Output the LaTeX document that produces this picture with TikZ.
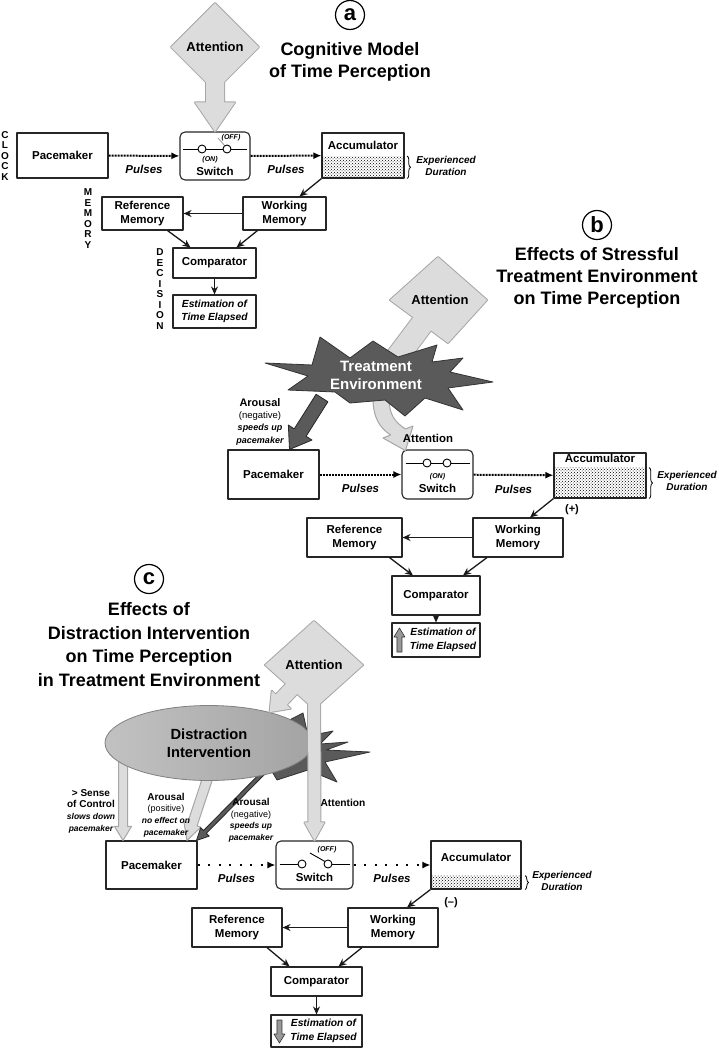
\documentclass[tikz,border=0pt]{standalone}
\usepackage{fontspec}
\setmainfont{Liberation Sans}
\usetikzlibrary{arrows.meta, calc, shapes.geometric, patterns, decorations.pathreplacing}

\definecolor{attnfill}{HTML}{DCDCDC}
\definecolor{attnline}{HTML}{A6A6A6}
\definecolor{stardark}{HTML}{5A5A5A}

% block arrow: style, from, to, half shaft, half head, head length
\newcommand{\blockarrow}[6]{%
  \coordinate (bah) at ($(#3)!#6!(#2)$);
  \path[#1] ($(#2)!#4!90:(#3)$) -- ($(bah)!#4!90:(#3)$) -- ($(bah)!#5!90:(#3)$)
    -- (#3) -- ($(bah)!#5!-90:(#3)$) -- ($(bah)!#4!-90:(#3)$)
    -- ($(#2)!#4!-90:(#3)$) -- cycle;
}

\begin{document}
\begin{tikzpicture}[x = 1pt, y = -1pt, % pixel grid, y runs down
    > = {Stealth[length=8pt, width=7pt]}, % arrow head style
    line join = round
  ]

  \tikzstyle{box}=[draw = black!85, line width = 1.1pt, fill = white, align = center,
  inner sep = 1pt, font = \fontsize{11.5}{14.5}\selectfont\bfseries]
  \tikzstyle{switchbox}=[box, rounded corners = 5pt]
  \tikzstyle{estbox}=[box, font = \fontsize{10.3}{13.5}\selectfont\bfseries\itshape]
  \tikzstyle{arr}=[->, line width = 1.3pt, black!90]
  \tikzstyle{pulse}=[line width = 2pt, densely dotted, -{Latex[length=8pt, width=7pt]}]
  \tikzstyle{pulsesparse}=[line width = 2.3pt, dash pattern = on 2.3pt off 8.2pt, -{Latex[length=8pt, width=7pt]}]
  \tikzstyle{pulselbl}=[inner sep = 1pt, font = \fontsize{11.5}{13}\selectfont\bfseries\itshape]
  \tikzstyle{durlbl}=[inner sep = 0pt, align = center, font = \fontsize{10}{12}\selectfont\bfseries\itshape]
  \tikzstyle{durbrace}=[decorate, decoration = {brace, amplitude = 3.5pt}, line width = 0.8pt]
  \tikzstyle{headline}=[align = center, font = \fontsize{18}{22}\selectfont\bfseries]
  \tikzstyle{panel}=[draw, circle, line width = 1.2pt, minimum size = 29pt, inner sep = 0pt,
  font = \fontsize{22}{22}\selectfont\bfseries]
  \tikzstyle{stage}=[inner sep = 0pt, align = center, font = \fontsize{10}{10.5}\selectfont\bfseries]
  \tikzstyle{swlbl}=[inner sep = 0pt, font = \fontsize{7}{7}\selectfont\bfseries\itshape]
  \tikzstyle{attnout}=[draw = attnline, line width = 2pt]
  \tikzstyle{attnin}=[fill = attnfill]
  \tikzstyle{attnlbl}=[font = \fontsize{13}{15}\selectfont\bfseries]
  \tikzstyle{lightarr}=[fill = attnfill, draw = attnline, line width = 1pt]
  \tikzstyle{darkarr}=[fill = stardark, draw = black!85, line width = 0.8pt]
  \tikzstyle{smallarr}=[fill = black!40, draw = black!80, line width = 0.6pt]
  \tikzstyle{burst}=[fill = stardark, draw = black!80, line width = 0.8pt]
  \tikzstyle{notelbl}=[inner sep = 0pt, align = center, font = \fontsize{9}{12.3}\selectfont\bfseries]
  \tikzstyle{signlbl}=[inner sep = 0pt, font = \fontsize{11}{13}\selectfont\bfseries]
  \tikzstyle{grain}=[pattern = crosshatch dots, pattern color = black]

  \useasboundingbox (0,0) rectangle (718,1050);

  % ---------------- (a) ----------------
  \node[panel] (circA) at (350,15) {a};
  \node[headline] (headA) at (350,62) {Cognitive Model\\of Time Perception};

  \node[box, minimum width = 91pt, minimum height = 45pt] (pmA) at (62.5,155.5) {Pacemaker};
  \node[switchbox, minimum width = 70pt, minimum height = 48pt, text height = 40pt] (swA) at (215,156) {Switch};
  \node[box, minimum width = 82pt, minimum height = 45pt, text height = 9pt, text depth = 22pt] (accA) at (363,155.5) {Accumulator};
  \node[box, minimum width = 81pt, minimum height = 33pt] (rmA) at (142.5,213.5) {Reference\\Memory};
  \node[box, minimum width = 83pt, minimum height = 33pt] (wmA) at (284.5,213.5) {Working\\Memory};
  \node[box, minimum width = 83pt, minimum height = 30pt] (cmpA) at (214.5,263) {Comparator};
  \node[estbox, minimum width = 83pt, minimum height = 33pt] (estA) at (214.5,311.5) {Estimation of\\Time Elapsed};

  \node[stage] (clock) at (5,156) {C\\L\\O\\C\\K};
  \node[stage] (memory) at (88,218.5) {M\\E\\M\\O\\R\\Y};
  \node[stage] (decision) at (160,289) {D\\E\\C\\I\\S\\I\\O\\N};

  % switch a
  \draw[line width = 0.9pt] ($(swA)+(-32,-7)$) -- ($(swA)+(32,-7)$);
  \draw[black!40, line width = 0.8pt] ($(swA)+(3,-18)$) -- ($(swA)+(10,-10)$);
  \draw[line width = 0.9pt, fill = white] ($(swA)+(-13,-7)$) circle (4pt) ($(swA)+(12,-7)$) circle (4pt);
  \node[swlbl] (offA) at ($(swA)+(16,-18)$) {(OFF)};
  \node[swlbl] (onA) at ($(swA)+(-5,4)$) {(ON)};

  \draw[pulse] (pmA) -- node[pulselbl, below = 7pt] (plsA1) {Pulses} (swA);
  \draw[pulse] (swA) -- node[pulselbl, below = 7pt] (plsA2) {Pulses} (accA);

  \fill[grain] ($(accA.south west)+(0.6,-0.6)$) rectangle ($(accA.south east)+(-0.6,-22.5)$);
  \draw[durbrace] ($(accA.south east)+(2.5,-22.5)$) -- ($(accA.south east)+(2.5,0)$);
  \node[durlbl] (durA) at (446,166) {Experienced\\Duration};

  \draw[arr] (accA.south west) -- ([xshift = 15pt]wmA.north);
  \draw[arr] (wmA) -- (rmA);
  \draw[arr] ([xshift = 25pt]rmA.south) -- ([xshift = -24pt]cmpA.north);
  \draw[arr] ([xshift = -27pt]wmA.south) -- ([xshift = 22pt]cmpA.north);
  \draw[arr] (cmpA) -- (estA);

  % attention a
  \coordinate (attA) at (215,47);
  \path[attnout] ($(attA)+(0,-44)$) -- ($(attA)+(44,0)$) -- ($(attA)+(0,44)$) -- ($(attA)+(-44,0)$) -- cycle;
  \blockarrow{attnout}{attA}{swA.north}{9pt}{20pt}{29pt}
  \path[attnin] ($(attA)+(0,-44)$) -- ($(attA)+(44,0)$) -- ($(attA)+(0,44)$) -- ($(attA)+(-44,0)$) -- cycle;
  \blockarrow{attnin}{attA}{swA.north}{9pt}{20pt}{29pt}
  \node[attnlbl] (attAlbl) at (attA) {Attention};

  % ---------------- (b) ----------------
  \node[panel] (circB) at (597,225) {b};
  \node[headline] (headB) at (597,278) {Effects of Stressful\\Treatment Environment\\on Time Perception};

  \node[box, minimum width = 91pt, minimum height = 49pt] (pmB) at (273.5,474.5) {Pacemaker};
  \node[switchbox, minimum width = 71pt, minimum height = 49pt, text height = 37pt] (swB) at (437.5,474.5) {Switch};
  \node[box, minimum width = 92pt, minimum height = 45pt, text height = 8pt, text depth = 34pt] (accB) at (600,475.5) {Accumulator};
  \node[box, minimum width = 95pt, minimum height = 39pt] (rmB) at (354.5,537.5) {Reference\\Memory};
  \node[box, minimum width = 90pt, minimum height = 39pt] (wmB) at (518,537.5) {Working\\Memory};
  \node[box, minimum width = 88pt, minimum height = 39pt] (cmpB) at (436,595.5) {Comparator};
  \node[estbox, minimum width = 88pt, minimum height = 34pt] (estB) at (436,640)
    {\hspace*{14pt}\begin{tabular}{@{}c@{}}Estimation of\\Time Elapsed\end{tabular}};

  % switch b
  \draw[line width = 0.9pt] ($(swB)+(-32,-11.5)$) -- ($(swB)+(32,-11.5)$);
  \draw[line width = 0.9pt, fill = white] ($(swB)+(-10.5,-11.5)$) circle (4pt) ($(swB)+(9.5,-11.5)$) circle (4pt);
  \node[swlbl] (onB) at ($(swB)+(0,2.5)$) {(ON)};

  \draw[pulse] (pmB) -- node[pulselbl, below = 8pt] (plsB1) {Pulses} (swB);
  \draw[pulse] (swB) -- node[pulselbl, below = 8pt] (plsB2) {Pulses} (accB);

  \fill[grain] ($(accB.south west)+(0.6,-0.6)$) rectangle ($(accB.south east)+(-0.6,-31)$);
  \draw[durbrace] ($(accB.south east)+(2.5,-31)$) -- ($(accB.south east)+(2.5,0)$);
  \node[durlbl] (durB) at (687,481) {Experienced\\Duration};

  \draw[arr] (accB.south west) -- ([xshift = 12pt]wmB.north);
  \node[signlbl] (plusB) at (572,510) {(+)};
  \draw[arr] (wmB) -- (rmB);
  \draw[arr] ([xshift = 35pt]rmB.south) -- ([xshift = -23pt]cmpB.north);
  \draw[arr] ([xshift = -31pt]wmB.south) -- ([xshift = 27pt]cmpB.north);
  \draw[arr] (cmpB) -- (estB);
  \coordinate (upB0) at ([xshift = 8pt, yshift = -12pt]estB.west);
  \coordinate (upB1) at ([xshift = 8pt, yshift = 12pt]estB.west);
  \blockarrow{smallarr}{upB0}{upB1}{2.5pt}{5.5pt}{9pt}

  % attention b, partly hidden by the burst
  \coordinate (attB) at (440,300);
  \coordinate (attBend) at (386,372);
  \begin{scope}[shift = {(attB)}]
    \path[attnout] (-2,-43) -- (47,0) -- (8,43) -- (-50,0) -- cycle;
  \end{scope}
  \draw[attnline, line width = 24pt] (attB) -- (attBend);
  \begin{scope}[shift = {(attB)}]
    \path[attnin] (-2,-43) -- (47,0) -- (8,43) -- (-50,0) -- cycle;
  \end{scope}
  \draw[attnfill, line width = 22pt] (attB) -- (attBend);
  \node[attnlbl] (attBlbl) at (attB) {Attention};
  \path[lightarr] (373,398) .. controls (373,418) and (380,428) .. (390.6,435) -- (383,438)
    -- (405.4,450.6) -- (413,426) -- (405.4,429) .. controls (395,422) and (389,415) .. (389,398) -- cycle;
  \node[font = \fontsize{11.4}{13}\selectfont\bfseries, inner sep = 0pt] (attBtxt) at (428,438) {Attention};

  % arousal b
  \coordinate (arsB) at (322,398);
  \coordinate (pmBtop) at ([xshift = 16pt]pmB.north);
  \blockarrow{darkarr}{arsB}{pmBtop}{7pt}{14pt}{20pt}

  % treatment environment burst
  \coordinate (treatB) at (378,376);
  \begin{scope}[shift = {(treatB)}]
    \path[burst] (-113,-13) -- (-66,-11) -- (-58,-39) -- (-28,-18) -- (-5,-35) -- (20,-19)
      -- (59,-31) -- (54,-14) -- (85,-18) -- (72,-4) -- (115,6) -- (70,12) -- (85,34)
      -- (47,22) -- (27,40) -- (7,24) -- (-28,27) -- (-43,16) -- (-90,14) -- (-70,0) -- cycle;
  \end{scope}
  \node[align = center, text = white, font = \fontsize{15}{17.5}\selectfont\bfseries] (treatBlbl) at (376,375.5) {Treatment\\Environment};

  \node[notelbl] (arsBlbl) at (260,421.5) {{\fontsize{11}{12}\selectfont Arousal}\\
    {\fontsize{9.5}{12}\selectfont\mdseries (negative)}\\{\itshape speeds up}\\{\itshape pacemaker}};

  % ---------------- (c) ----------------
  \node[panel] (circC) at (149,579) {c};
  \node[headline, font = \fontsize{18}{23.5}\selectfont\bfseries] (headC) at (149,644.5)
    {Effects of\\Distraction Intervention\\on Time Perception\\in Treatment Environment};

  \node[box, minimum width = 91pt, minimum height = 48pt] (pmC) at (151.5,865) {Pacemaker};
  \node[switchbox, minimum width = 77pt, minimum height = 48pt, text height = 34pt] (swC) at (314.5,865) {Switch};
  \node[box, minimum width = 90pt, minimum height = 48pt, text height = 8pt, text depth = 16pt] (accC) at (476,865) {Accumulator};
  \node[box, minimum width = 90pt, minimum height = 39pt] (rmC) at (237,927.5) {Reference\\Memory};
  \node[box, minimum width = 90pt, minimum height = 39pt] (wmC) at (393,927.5) {Working\\Memory};
  \node[box, minimum width = 91pt, minimum height = 29pt] (cmpC) at (316.5,981.5) {Comparator};
  \node[estbox, minimum width = 91pt, minimum height = 32pt] (estC) at (316.5,1031)
    {\hspace*{14pt}\begin{tabular}{@{}c@{}}Estimation of\\Time Elapsed\end{tabular}};

  % switch c (open)
  \draw[line width = 0.9pt] ($(swC)+(-35,-1)$) -- ($(swC)+(-12.5,-1)$) ($(swC)+(13.5,-1)$) -- ($(swC)+(35,-1)$);
  \draw[line width = 0.9pt] ($(swC)+(-4.5,-12)$) -- ($(swC)+(10.5,-3.5)$);
  \draw[line width = 0.9pt, fill = white] ($(swC)+(-12.5,-1)$) circle (4pt) ($(swC)+(13.5,-1)$) circle (4pt);
  \node[swlbl] (offC) at ($(swC)+(12.5,-15)$) {(OFF)};

  \draw[pulsesparse] (pmC) -- node[pulselbl, below = 7pt] (plsC1) {Pulses} (swC);
  \draw[pulsesparse] (swC) -- node[pulselbl, below = 7pt] (plsC2) {Pulses} (accC);

  \fill[grain] ($(accC.south west)+(0.6,-0.6)$) rectangle ($(accC.south east)+(-0.6,-14)$);
  \draw[durbrace] ($(accC.south east)+(3.5,-14)$) -- ($(accC.south east)+(3.5,0)$);
  \node[durlbl] (durC) at (562,881) {Experienced\\Duration};

  \draw[arr] (accC.south west) -- ([xshift = 14pt]wmC.north);
  \node[signlbl] (minusC) at (451,903) {(--)};
  \draw[arr] (wmC) -- (rmC);
  \draw[arr] ([xshift = 30pt]rmC.south) -- ([xshift = -27pt]cmpC.north);
  \draw[arr] ([xshift = -31pt]wmC.south) -- ([xshift = 22pt]cmpC.north);
  \draw[arr] (cmpC) -- (estC);
  \coordinate (dnC0) at ([xshift = 9pt, yshift = 11pt]estC.west);
  \coordinate (dnC1) at ([xshift = 9pt, yshift = -12pt]estC.west);
  \blockarrow{smallarr}{dnC0}{dnC1}{2.5pt}{5.5pt}{9pt}

  % burst behind the intervention
  \begin{scope}[shift = {(300,750)}]
    \path[burst] (-60,-30) -- (-30,-20) -- (3,-37) -- (8,-14) -- (33,-19) -- (20,-6) -- (48,-8)
      -- (26,0) -- (70,2) -- (25,12) -- (37,32) -- (8,20) -- (-23,30) -- (-30,18) -- (-75,25)
      -- (-60,0) -- cycle;
  \end{scope}

  % arrows out of the intervention
  \coordinate (ctrlC) at (123,752);
  \coordinate (pmCa) at ([xshift = -28.5pt]pmC.north);
  \blockarrow{lightarr}{ctrlC}{pmCa}{4.5pt}{8.5pt}{14pt}
  \coordinate (posC) at (212,765);
  \coordinate (pmCb) at ([xshift = 35.5pt]pmC.north);
  \blockarrow{lightarr}{posC}{pmCb}{5pt}{9pt}{17pt}
  \coordinate (negC) at (272,764);
  \coordinate (pmCc) at ([xshift = 45pt]pmC.north);
  \blockarrow{darkarr}{negC}{pmCc}{2pt}{6pt}{12pt}

  \node[ellipse, draw = black!50, line width = 0.8pt, left color = black!24, right color = black!36,
    minimum width = 208pt, minimum height = 75pt, align = center,
    font = \fontsize{14.7}{17.5}\selectfont\bfseries] (distC) at (209,743) {Distraction\\Intervention};

  % attention c
  \coordinate (attC) at (314,665);
  \coordinate (distCtip) at (distC.27);
  \path[attnout] ($(attC)+(0,-44)$) -- ($(attC)+(49,0)$) -- ($(attC)+(0,44)$) -- ($(attC)+(-49,0)$) -- cycle;
  \blockarrow{attnout}{attC}{swC.north}{6pt}{10pt}{18pt}
  \blockarrow{attnout}{attC}{distCtip}{7.5pt}{13pt}{17pt}
  \path[attnin] ($(attC)+(0,-44)$) -- ($(attC)+(49,0)$) -- ($(attC)+(0,44)$) -- ($(attC)+(-49,0)$) -- cycle;
  \blockarrow{attnin}{attC}{swC.north}{6pt}{10pt}{18pt}
  \blockarrow{attnin}{attC}{distCtip}{7.5pt}{13pt}{17pt}
  \node[attnlbl] (attClbl) at (attC) {Attention};

  \node[notelbl, font = \fontsize{8.5}{11.7}\selectfont\bfseries] (ctrlClbl) at (91,811)
    {{\fontsize{10}{11}\selectfont > Sense}\\{\fontsize{10}{11}\selectfont of Control}\\
    {\itshape slows down}\\{\itshape pacemaker}};
  \node[notelbl, font = \fontsize{8.5}{11.7}\selectfont\bfseries] (posClbl) at (166,815)
    {{\fontsize{10}{11}\selectfont Arousal}\\{\fontsize{9}{11}\selectfont\mdseries (positive)}\\
    {\itshape no effect on}\\{\itshape pacemaker}};
  \node[notelbl, font = \fontsize{8.5}{11.5}\selectfont\bfseries] (negClbl) at (251,820)
    {{\fontsize{10}{11}\selectfont Arousal}\\{\fontsize{9}{11}\selectfont\mdseries (negative)}\\
    {\itshape speeds up}\\{\itshape pacemaker}};
  \node[inner sep = 0pt, font = \fontsize{10.2}{12}\selectfont\bfseries] (attCtxt) at (343,803) {Attention};

\end{tikzpicture}
\end{document}
